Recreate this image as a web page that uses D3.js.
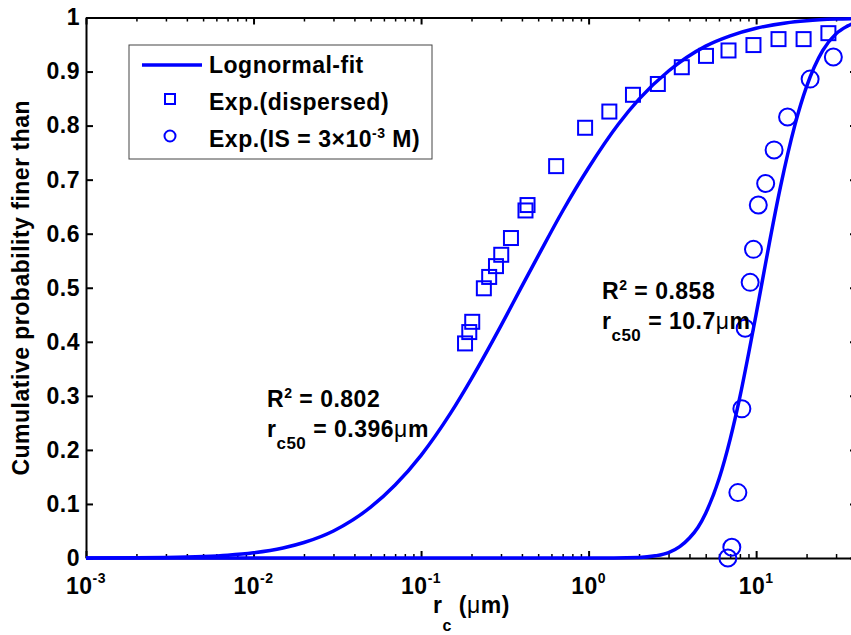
<!doctype html>
<html>
  <head>
    <script src="https://cdnjs.cloudflare.com/ajax/libs/d3/7.8.5/d3.min.js"></script>
    <style>
      body { margin: 0; background: #fff; }
      text {
        font-family: "Liberation Sans", Arial, sans-serif;
        font-weight: bold;
        font-size: 23px;
        letter-spacing: 0.5px;
        fill: #000;
      }
      .axis path, .axis line { stroke: #000; stroke-width: 2px; }
      .minor line { stroke-width: 1.5px; }
      .fit { fill: none; stroke: #0000ff; stroke-width: 3.5px; }
      .mark { fill: none; stroke: #0000ff; stroke-width: 2px; }
    </style>
  </head>
  <body>
    <svg width="851" height="635"></svg>

    <script>
      // experimental points, dispersed sample
      var dispX = [0.183, 0.194, 0.202, 0.237, 0.255, 0.280, 0.301, 0.344, 0.420, 0.432,
                   0.640, 0.953, 1.33, 1.84, 2.59, 3.60, 5.02, 6.84, 9.64, 13.6, 19.2, 27.0];
      var dispY = [0.397, 0.418, 0.437, 0.499, 0.520, 0.540, 0.561, 0.592, 0.643, 0.653,
                   0.725, 0.796, 0.826, 0.857, 0.877, 0.908, 0.929, 0.939, 0.949, 0.960, 0.960, 0.971];

      // experimental points, IS = 3e-3 M
      var isX = [6.78, 7.16, 7.78, 8.22, 8.60, 9.21, 9.64, 10.3, 11.4, 12.8, 15.4, 21.0, 28.9];
      var isY = [0.0, 0.020, 0.121, 0.276, 0.425, 0.510, 0.571, 0.653, 0.693, 0.755, 0.816, 0.886, 0.927];

      // lognormal fit curves
      var fitDispX = [0.001, 0.002, 0.003, 0.005, 0.007, 0.01, 0.015, 0.02, 0.03, 0.05, 0.07, 0.1,
                      0.15, 0.2, 0.3, 0.4, 0.5, 0.7, 1, 1.5, 2, 3, 5, 7, 10, 15, 20, 30, 40];
      var fitDispY = [0.0001, 0.0004, 0.0009, 0.0027, 0.0051, 0.0096, 0.0185, 0.0286, 0.050, 0.094, 0.135, 0.190,
                      0.268, 0.332, 0.430, 0.503, 0.559, 0.642, 0.722, 0.802, 0.849, 0.901, 0.947, 0.966, 0.980, 0.990, 0.994, 0.997, 0.998];

      var fitIsX = [0.001, 1, 2, 2.5, 3, 3.5, 4, 4.5, 5, 6, 7, 8, 9, 10, 11, 12, 14, 17, 20, 25, 30, 35, 40];
      var fitIsY = [0, 0, 0.001, 0.004, 0.010, 0.021, 0.037, 0.057, 0.083, 0.146, 0.220, 0.298, 0.377, 0.451,
                    0.520, 0.583, 0.688, 0.800, 0.872, 0.939, 0.970, 0.984, 0.992];

      var yTicks = [0, 0.1, 0.2, 0.3, 0.4, 0.5, 0.6, 0.7, 0.8, 0.9, 1];
      var yTickLabels = ["0", "0.1", "0.2", "0.3", "0.4", "0.5", "0.6", "0.7", "0.8", "0.9", "1"];
      var xTicks = [1e-3, 1e-2, 1e-1, 1, 10];
      var xTickExps = ["-3", "-2", "-1", "0", "1"];
      var legendLabels = ["Lognormal-fit", "Exp.(dispersed)", "Exp.(IS = 3\u00d710", "-3", " M)"];

      var m = {left: 86, right: 857, top: 17.5, bottom: 558};

      var x = d3.scaleLog().domain([1e-3, 40]).range([m.left, m.right]);
      var y = d3.scaleLinear().domain([0, 1]).range([m.bottom, m.top]);

      var svg = d3.select("svg");

      // minor ticks 2..9 in every decade
      var minor = [];
      d3.range(-3, 2).forEach(k => {
        d3.range(2, 10).forEach(j => {
          var v = j * Math.pow(10, k);
          if (v <= 40) minor.push(v);
        });
      });

      svg.append("g").attr("class", "axis")
        .attr("transform", `translate(0,${m.bottom})`)
        .call(d3.axisBottom(x).tickValues(xTicks).tickFormat("").tickSize(-7).tickSizeOuter(0));
      svg.append("g").attr("class", "axis minor")
        .attr("transform", `translate(0,${m.bottom})`)
        .call(d3.axisBottom(x).tickValues(minor).tickFormat("").tickSize(-4))
        .select(".domain").remove();
      svg.append("g").attr("class", "axis")
        .attr("transform", `translate(0,${m.top})`)
        .call(d3.axisTop(x).tickValues(xTicks).tickFormat("").tickSize(-7).tickSizeOuter(0));
      svg.append("g").attr("class", "axis minor")
        .attr("transform", `translate(0,${m.top})`)
        .call(d3.axisTop(x).tickValues(minor).tickFormat("").tickSize(-4))
        .select(".domain").remove();

      svg.append("g").attr("class", "axis")
        .attr("transform", `translate(${m.left},0)`)
        .call(d3.axisLeft(y).tickValues(yTicks).tickFormat((d, i) => yTickLabels[i])
          .tickSize(-7).tickSizeOuter(0).tickPadding(6));
      svg.append("g").attr("class", "axis")
        .attr("transform", `translate(${m.right},0)`)
        .call(d3.axisRight(y).tickValues(yTicks).tickFormat("").tickSize(-7).tickSizeOuter(0));

      // x tick labels 10^k
      var xl = svg.append("g").selectAll("text")
        .data(xTicks).enter()
        .append("text")
          .attr("x", d => x(d))
          .attr("y", 594)
          .attr("text-anchor", "middle");
      xl.append("tspan").text("10");
      xl.append("tspan").attr("dy", -11).style("font-size", "14px").text((d, i) => xTickExps[i]);

      // axis titles
      var xt = svg.append("text")
        .attr("x", (m.left + m.right) / 2)
        .attr("y", 613)
        .attr("text-anchor", "middle");
      xt.append("tspan").text("r");
      xt.append("tspan").attr("dy", 18).style("font-size", "16px").text("c");
      xt.append("tspan").attr("dy", -18).text(" (");
      xt.append("tspan").style("font-weight", "normal").text("\u03bc");
      xt.append("tspan").text("m)");

      svg.append("text")
        .attr("transform", `translate(29,${(m.top + m.bottom) / 2}) rotate(-90)`)
        .attr("text-anchor", "middle")
        .text("Cumulative probability finer than");

      // fit curves
      var line = d3.line()
        .x(d => x(d[0]))
        .y(d => y(d[1]))
        .curve(d3.curveMonotoneX);

      svg.append("path").attr("class", "fit")
        .attr("d", line(d3.zip(fitDispX, fitDispY)));
      svg.append("path").attr("class", "fit")
        .attr("d", line(d3.zip(fitIsX, fitIsY)));

      // markers
      svg.append("g").selectAll("rect")
        .data(d3.zip(dispX, dispY)).enter()
        .append("rect")
          .attr("class", "mark")
          .attr("x", d => x(d[0]) - 7)
          .attr("y", d => y(d[1]) - 7)
          .attr("width", 14)
          .attr("height", 14);

      svg.append("g").selectAll("circle")
        .data(d3.zip(isX, isY)).enter()
        .append("circle")
          .attr("class", "mark")
          .attr("cx", d => x(d[0]))
          .attr("cy", d => y(d[1]))
          .attr("r", 8.5);

      // annotations
      function annotate(x0, y0, r2, rc) {
        var t1 = svg.append("text").attr("x", x0).attr("y", y0);
        t1.append("tspan").text("R");
        t1.append("tspan").attr("dy", -9).style("font-size", "14px").text("2");
        t1.append("tspan").attr("dy", 9).text(" = " + r2);

        var t2 = svg.append("text").attr("x", x0).attr("y", y0 + 30);
        t2.append("tspan").text("r");
        t2.append("tspan").attr("dy", 12).style("font-size", "17px").text("c50");
        t2.append("tspan").attr("dy", -12).text(" = " + rc);
        t2.append("tspan").style("font-weight", "normal").text("\u03bc");
        t2.append("tspan").text("m");
      }
      annotate(267, 407, "0.802", "0.396");
      annotate(602, 299, "0.858", "10.7");

      // legend
      var lg = svg.append("g");
      lg.append("rect")
        .attr("x", 129).attr("y", 45).attr("width", 303).attr("height", 114)
        .attr("fill", "#fff").attr("stroke", "#444").attr("stroke-width", 1);
      lg.append("line").attr("class", "fit")
        .attr("x1", 142).attr("x2", 202).attr("y1", 65).attr("y2", 65);
      lg.append("rect").attr("class", "mark")
        .attr("x", 165).attr("y", 94).attr("width", 10).attr("height", 10);
      lg.append("circle").attr("class", "mark")
        .attr("cx", 170).attr("cy", 136).attr("r", 5.5);
      lg.append("text").attr("x", 209).attr("y", 73).text(legendLabels[0]);
      lg.append("text").attr("x", 209).attr("y", 110).text(legendLabels[1]);
      var l3 = lg.append("text").attr("x", 209).attr("y", 147);
      l3.append("tspan").text(legendLabels[2]);
      l3.append("tspan").attr("dy", -9).style("font-size", "14px").text(legendLabels[3]);
      l3.append("tspan").attr("dy", 9).text(legendLabels[4]);
    </script>
  </body>
</html>
